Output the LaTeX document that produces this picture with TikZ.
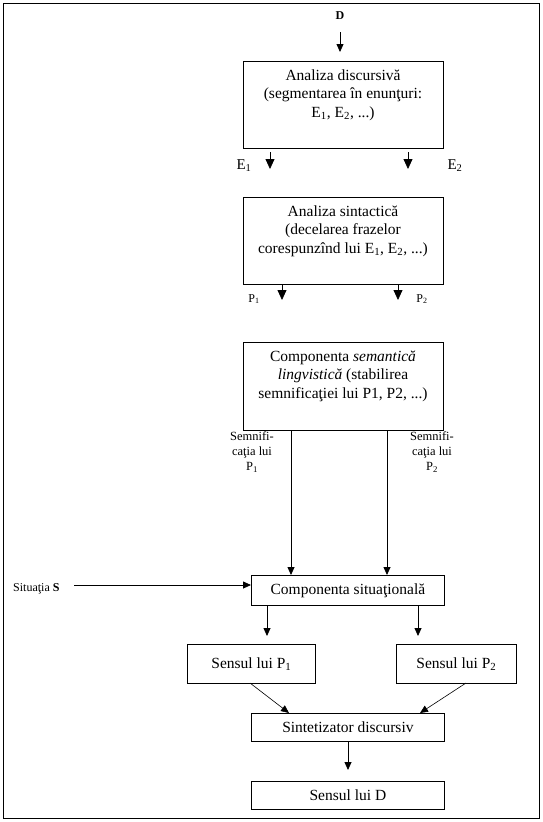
\documentclass[tikz,border=0pt]{standalone}
\usepackage{fontspec}
\setmainfont{Liberation Serif}
\usetikzlibrary{arrows.meta,calc}
\begin{document}
\begin{tikzpicture}[x=1pt,y=-1pt,
  box/.style={draw, line width=0.8pt, inner sep=0pt, anchor=north west},
  txt/.style={align=center, inner sep=0pt, font=\fontsize{15.5}{18.5}\selectfont},
  lbl/.style={inner sep=0pt, font=\fontsize{15}{18}\selectfont},
  small/.style={inner sep=0pt, align=center, font=\fontsize{12}{14.5}\selectfont},
  bigarr/.style={line width=0.8pt, -{Triangle[width=9pt,length=10pt]}},
  arr/.style={line width=0.8pt, -{Triangle[width=7pt,length=8pt]}},
  thin/.style={line width=0.6pt, -{Triangle[width=7pt,length=8pt]}}]
\useasboundingbox (0,0) rectangle (542,822);
\draw[line width=1pt] (3,3) rectangle (539,818);

% boxes
\node[box, minimum width=200pt, minimum height=87pt] (b1) at (243,61) {};
\node[box, minimum width=200pt, minimum height=87pt] (b2) at (243,197) {};
\node[box, minimum width=200pt, minimum height=88pt] (b3) at (243,342) {};
\node[box, minimum width=193pt, minimum height=30pt] (b4) at (251,575) {};
\node[box, minimum width=128pt, minimum height=39pt] (b5) at (187,644) {};
\node[box, minimum width=120pt, minimum height=39pt] (b6) at (396,644) {};
\node[box, minimum width=193pt, minimum height=28pt] (b7) at (251,713) {};
\node[box, minimum width=193pt, minimum height=28pt] (b8) at (251,781) {};

% texts
\node[txt] (t1) at (343,95) {Analiza discursivă\\(segmentarea în enunţuri:\\E\textsubscript{1}, E\textsubscript{2}, ...)};
\node[txt] (t2) at (343,231) {Analiza sintactică\\(decelarea frazelor\\corespunzînd lui E\textsubscript{1}, E\textsubscript{2}, ...)};
\node[txt] (t3) at (343,376) {Componenta \textit{semantică}\\\textit{lingvistică} (stabilirea\\semnificaţiei lui P1, P2, ...)};
\node[txt] (t4) at (b4.center) {Componenta situaţională};
\node[txt] (t5) at (b5.center) {Sensul lui P\textsubscript{1}};
\node[txt] (t6) at (b6.center) {Sensul lui P\textsubscript{2}};
\node[txt] (t7) at (b7.center) {Sintetizator discursiv};
\node[txt] (t8) at (b8.center) {Sensul lui D};

% labels
\node[small, font=\fontsize{12}{14}\selectfont\bfseries] (D) at (340,16) {D};
\node[lbl] (E1) at (244,166) {E\textsubscript{1}};
\node[lbl] (E2) at (455,166) {E\textsubscript{2}};
\node[small] (P1) at (254,299) {P\textsubscript{1}};
\node[small] (P2) at (422,299) {P\textsubscript{2}};
\node[small, font=\fontsize{12.5}{15}\selectfont] (S1) at (252,452) {Semnifi-\\caţia lui\\P\textsubscript{1}};
\node[small, font=\fontsize{12.5}{15}\selectfont] (S2) at (432,452) {Semnifi-\\caţia lui\\P\textsubscript{2}};
\node[small, anchor=west] (sit) at (13,589) {Situaţia \textbf{S}};

% free-end coordinates
\coordinate (d0) at (340,32);
\coordinate (e1a) at (270,152); \coordinate (e1b) at (270,169);
\coordinate (e2a) at (408,152); \coordinate (e2b) at (408,169);
\coordinate (p1a) at (282,284); \coordinate (p1b) at (282,300);
\coordinate (p2a) at (398,284); \coordinate (p2b) at (398,300);
\coordinate (s0) at (74,585);
\coordinate (c1) at (267,636); \coordinate (c2) at (418,636);

% connectors
\draw[arr] (d0) -- (340,52);
\draw[bigarr] (e1a) -- (e1b);
\draw[bigarr] (e2a) -- (e2b);
\draw[bigarr] (p1a) -- (p1b);
\draw[bigarr] (p2a) -- (p2b);
\draw[arr] (b3.south -| 291,0) -- (b4.north -| 291,0);
\draw[arr] (b3.south -| 387,0) -- (b4.north -| 387,0);
\draw[arr] (s0) -- (b4.west |- s0);
\draw[arr] (b4.south -| c1) -- (c1);
\draw[arr] (b4.south -| c2) -- (c2);
\draw[thin] (250,683) -- (289,713);
\draw[thin] (466,683) -- (420,713);
\draw[arr] (b7.south -| 348,0) -- (348,770);
\end{tikzpicture}
\end{document}
